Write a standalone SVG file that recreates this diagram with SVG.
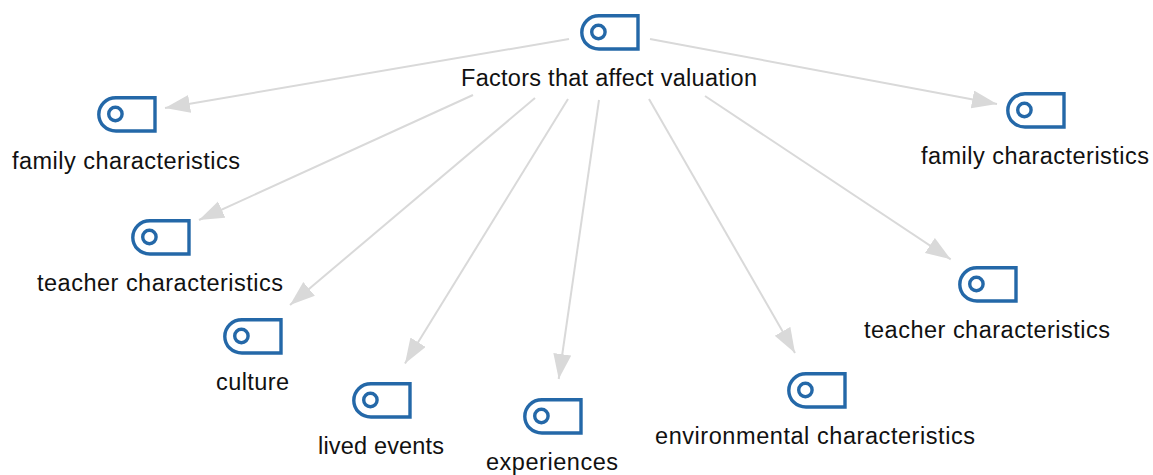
<svg xmlns="http://www.w3.org/2000/svg" width="1153" height="475" viewBox="0 0 1153 475">
<style>
.e{fill:none;stroke:#d9d9d9;stroke-width:2;marker-end:url(#a)}
.o{fill:none;stroke:#2468a8;stroke-width:3.4}
text{font-family:"Liberation Sans",Arial,sans-serif;font-size:23.5px;fill:#111;text-anchor:middle}
</style>
<defs>
<marker id="a" markerUnits="userSpaceOnUse" markerWidth="27" markerHeight="19" refX="25" refY="9" orient="auto"><path d="M0 0L25 9L0 18z" fill="#d9d9d9"/></marker>
<g id="i"><path class="o" d="M58 1.8H19C9 1.8 1.8 9.5 1.8 18.4S9 35 19 35H58z"/><circle class="o" cx="18.4" cy="18" r="6.7"/></g>
</defs>
<rect width="1153" height="475" fill="#fff"/>
<g id="connectors">
<path class="e" d="M569 39L165 108"/>
<path class="e" d="M473 95L199 220"/>
<path class="e" d="M535 98L290 305"/>
<path class="e" d="M568 99L405 363.500"/>
<path class="e" d="M599 100L558.700 379"/>
<path class="e" d="M649 99L795 353"/>
<path class="e" d="M705 96L950.700 259.300"/>
<path class="e" d="M650 39L997 104"/>
</g>
<g id="n0"><use href="#i" x="580" y="14"/><text x="609" y="86" textLength="296">Factors that affect valuation</text></g>
<g id="n1"><use href="#i" x="97" y="96"/><text x="126" y="168.500" textLength="228">family characteristics</text></g>
<g id="n2"><use href="#i" x="131" y="219"/><text x="160" y="291" textLength="246">teacher characteristics</text></g>
<g id="n3"><use href="#i" x="223" y="318"/><text x="252.500" y="390" textLength="73">culture</text></g>
<g id="n4"><use href="#i" x="352" y="382"/><text x="381" y="454" textLength="126">lived events</text></g>
<g id="n5"><use href="#i" x="523" y="398"/><text x="552" y="470" textLength="132">experiences</text></g>
<g id="n6"><use href="#i" x="787" y="372"/><text x="815" y="444" textLength="320">environmental characteristics</text></g>
<g id="n7"><use href="#i" x="958" y="266"/><text x="987" y="337.500" textLength="246">teacher characteristics</text></g>
<g id="n8"><use href="#i" x="1006" y="92"/><text x="1035" y="164.300" textLength="228">family characteristics</text></g>
</svg>
